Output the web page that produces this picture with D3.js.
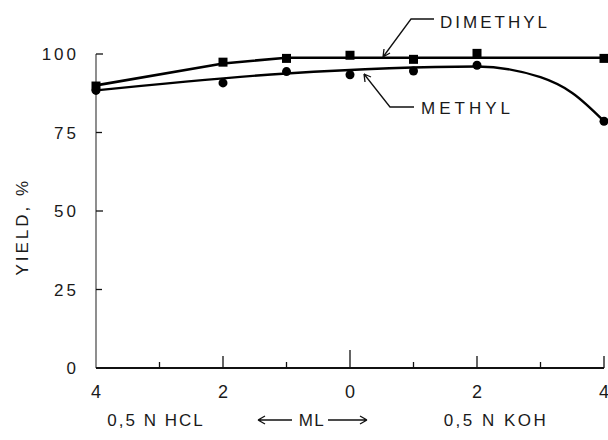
<!DOCTYPE html>
<html>
<head>
<meta charset="utf-8">
<script src="https://cdn.jsdelivr.net/npm/d3@7"></script>
<style>
  body { margin: 0; background: #fff; }
  text { font-family: "Liberation Sans", "DejaVu Sans", sans-serif; fill: #1a1a1a; }
</style>
</head>
<body>
<div id="chart_area"></div>
<script>
var width = 608
var height = 440
var margin = {top: 54, right: 4, bottom: 72, left: 96}

// Data (ml of acid on the left as negative, ml of base on the right)
var xTicks = [-4, -3, -2, -1, 0, 1, 2, 3, 4]
var xTickLabels = ["4", "2", "0", "2", "4"]
var xLabelAt = [-4, -2, 0, 2, 4]
var yTicks = [0, 25, 50, 75, 100]

var dimethylX = [-4, -2, -1, 0, 1, 2, 4]
var dimethylY = [89.8, 97.4, 98.6, 99.6, 98.3, 100.2, 98.6]
var dimethylFitX = [-4, -2, -1, 4]
var dimethylFitY = [90, 97, 98.8, 98.8]

var methylX = [-4, -2, -1, 0, 1, 2, 4]
var methylY = [88.4, 90.8, 94.4, 93.4, 94.6, 96.4, 78.6]
var methylFitX = [-4, -1, 2, 3, 3.5, 4]
var methylFitY = [88.4, 93.8, 96, 92.6, 87.6, 78.6]

var svg = d3.select("#chart_area")
  .append("svg")
  .attr("width", width)
  .attr("height", height)

var x = d3.scaleLinear().domain([-4, 4]).range([margin.left, width - margin.right])
var y = d3.scaleLinear().domain([0, 100]).range([height - margin.bottom, margin.top])

// y axis
svg.append("line")
  .attr("x1", x(-4)).attr("x2", x(-4))
  .attr("y1", y(100)).attr("y2", y(0))
  .attr("stroke", "#444").attr("stroke-width", 1.2)

yTicks.forEach(function (t) {
  if (t > 0) {
    svg.append("line")
      .attr("x1", x(-4)).attr("x2", x(-4) + (t % 50 == 0 ? 7 : 6))
      .attr("y1", y(t)).attr("y2", y(t))
      .attr("stroke", "#111").attr("stroke-width", 1.3)
  }
  svg.append("text")
    .attr("x", 79)
    .attr("y", y(t))
    .attr("dy", "0.36em")
    .attr("text-anchor", "end")
    .style("font-size", "17px")
    .style("letter-spacing", "3px")
    .text(t)
})

// x axis
svg.append("line")
  .attr("x1", x(-4)).attr("x2", x(4))
  .attr("y1", y(0)).attr("y2", y(0))
  .attr("stroke", "#111").attr("stroke-width", 2)

xTicks.forEach(function (t) {
  var len = t == 0 ? 18 : (t % 2 == 0 ? 12 : 6)
  if (t == -4) return
  svg.append("line")
    .attr("x1", x(t)).attr("x2", x(t))
    .attr("y1", y(0)).attr("y2", y(0) - len)
    .attr("stroke", "#111").attr("stroke-width", 1.3)
})

xLabelAt.forEach(function (t, i) {
  svg.append("text")
    .attr("x", x(t))
    .attr("y", 398)
    .attr("text-anchor", "middle")
    .style("font-size", "18px")
    .text(xTickLabels[i])
})

// axis titles
svg.append("text")
  .attr("transform", "translate(28," + y(45) + ") rotate(-90)")
  .attr("text-anchor", "middle")
  .style("font-size", "17px")
  .style("letter-spacing", "3px")
  .text("YIELD, %")

svg.append("text")
  .attr("x", 156).attr("y", 426)
  .attr("text-anchor", "middle")
  .style("font-size", "17px")
  .style("letter-spacing", "2px")
  .text("0,5 N  HCL")

svg.append("text")
  .attr("x", 312).attr("y", 426)
  .attr("text-anchor", "middle")
  .style("font-size", "17px")
  .style("letter-spacing", "1.5px")
  .text("ML")

svg.append("text")
  .attr("x", 496).attr("y", 426)
  .attr("text-anchor", "middle")
  .style("font-size", "17px")
  .style("letter-spacing", "2.5px")
  .text("0,5 N  KOH")

// the arrows either side of "ML"
svg.append("path")
  .attr("d", "M258,420 H292 M258,420 l7,-4 M258,420 l7,4")
  .attr("fill", "none").attr("stroke", "#111").attr("stroke-width", 1.4)
svg.append("path")
  .attr("d", "M328,420 H367 M367,420 l-7,-4 M367,420 l-7,4")
  .attr("fill", "none").attr("stroke", "#111").attr("stroke-width", 1.4)

// fitted lines
var lineGen = d3.line()
  .x(function (d) { return x(d[0]) })
  .y(function (d) { return y(d[1]) })

svg.append("path")
  .datum(d3.zip(dimethylFitX, dimethylFitY))
  .attr("d", lineGen)
  .attr("fill", "none").attr("stroke", "#000").attr("stroke-width", 2.6)

svg.append("path")
  .datum(d3.zip(methylFitX, methylFitY))
  .attr("d", lineGen.curve(d3.curveMonotoneX))
  .attr("fill", "none").attr("stroke", "#000").attr("stroke-width", 2.4)

// markers
svg.selectAll(".sq")
  .data(d3.zip(dimethylX, dimethylY))
  .enter().append("rect")
  .attr("x", function (d) { return x(d[0]) - 4.5 })
  .attr("y", function (d) { return y(d[1]) - 4.5 })
  .attr("width", 9).attr("height", 9)
  .attr("fill", "#000")

svg.selectAll(".dot")
  .data(d3.zip(methylX, methylY))
  .enter().append("circle")
  .attr("cx", function (d) { return x(d[0]) })
  .attr("cy", function (d) { return y(d[1]) })
  .attr("r", 4.5)
  .attr("fill", "#000")

// labels with leader arrows
svg.append("text")
  .attr("x", 440).attr("y", 28)
  .style("font-size", "17px")
  .style("letter-spacing", "3px")
  .text("DIMETHYL")

svg.append("path")
  .attr("d", "M434,19 H411 L383,57 M383,57 l1,-8 M383,57 l7,-4")
  .attr("fill", "none").attr("stroke", "#111").attr("stroke-width", 1.3)

svg.append("text")
  .attr("x", 421).attr("y", 114)
  .style("font-size", "17px")
  .style("letter-spacing", "4px")
  .text("METHYL")

svg.append("path")
  .attr("d", "M414,107 H390 L364,74 M364,74 l1,8 M364,74 l7,3")
  .attr("fill", "none").attr("stroke", "#111").attr("stroke-width", 1.3)
</script>
</body>
</html>
